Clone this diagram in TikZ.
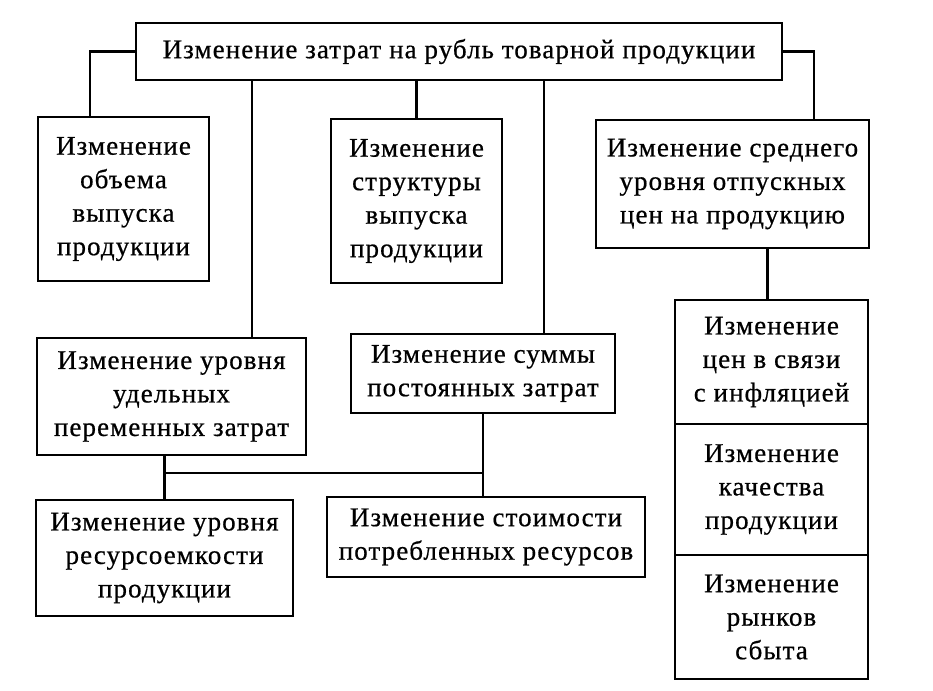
\documentclass[tikz,border=0pt]{standalone}
\usepackage{fontspec}
\setmainfont[LetterSpace=4,FakeBold=0.6]{Liberation Serif}
\tikzset{
  box/.style={draw, line width=2.8pt, align=center, inner sep=0pt,
    font=\fontsize{27}{33.5}\selectfont},
  link/.style={line width=2.8pt}
}
\begin{document}
\begin{tikzpicture}[x=1pt,y=1pt]
      \useasboundingbox (0,0) rectangle (933,-690);
      \node[box, minimum width=646, minimum height=57] (top) at (459,-51.5)
        {Изменение затрат на рубль товарной продукции};
      \node[box, minimum width=171, minimum height=164] (volume) at (123.5,-199)
        {Изменение\\объема\\выпуска\\продукции};
      \node[box, minimum width=171, minimum height=164] (struct) at (416.5,-201)
        {Изменение\\структуры\\выпуска\\продукции};
      \node[box, minimum width=273, minimum height=128] (price) at (732.5,-184)
        {Изменение среднего\\уровня отпускных\\цен на продукцию};
      \node[box, minimum width=269, minimum height=117] (varcost) at (171.5,-396.5)
        {Изменение уровня\\удельных\\переменных затрат};
      \node[box, minimum width=264, minimum height=79] (fixcost) at (483,-373.5)
        {Изменение суммы\\постоянных затрат};
      \node[box, minimum width=257, minimum height=116] (resint) at (164.5,-558)
        {Изменение уровня\\ресурсоемкости\\продукции};
      \node[box, minimum width=318, minimum height=80] (rescost) at (486,-537)
        {Изменение стоимости\\потребленных ресурсов};
      \node[box, minimum width=193, minimum height=124] (infl) at (771.5,-362)
        {Изменение\\цен в связи\\с инфляцией};
      \node[box, minimum width=193, minimum height=131] (quality) at (771.5,-489.5)
        {Изменение\\качества\\продукции};
      \node[box, minimum width=193, minimum height=124] (market) at (771.5,-617)
        {Изменение\\рынков\\сбыта};
      \coordinate (join) at (0,-473);
      \begin{scope}[link]
        \draw (top.west) -| ([xshift=-33.5]volume.north);
        \draw ([xshift=80.5]varcost.north) -- ([xshift=80.5]varcost.north |- top.south);
        \draw (struct.north) -- (struct.north |- top.south);
        \draw ([xshift=61]fixcost.north) -- ([xshift=61]fixcost.north |- top.south);
        \draw (top.east) -| ([xshift=81.5]price.north);
        \draw ([xshift=35]price.south) -- ([xshift=35]price.south |- infl.north);
        \draw (resint.north) -- (resint.north |- varcost.south);
        \draw (rescost.north -| fixcost.south) -- (fixcost.south);
        \draw (resint.north |- join) -- (fixcost.south |- join);
      \end{scope}
    \end{tikzpicture}
\end{document}
